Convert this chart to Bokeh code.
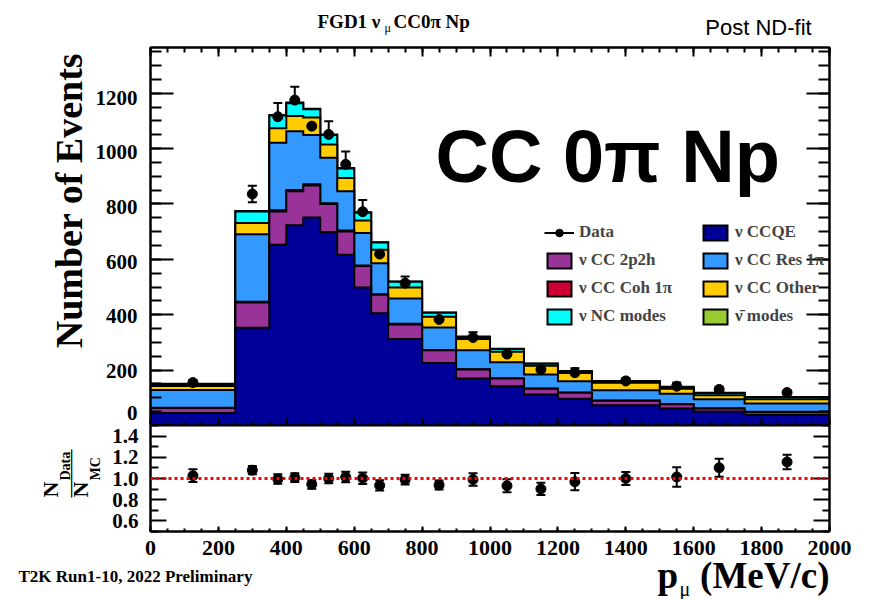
import numpy as np
from bokeh.plotting import figure
from bokeh.layouts import column, row
from bokeh.models import (ColumnDataSource, FixedTicker, LinearAxis, Range1d, Label,
                          Legend, LegendItem, Span, Whisker, TeeHead, NumeralTickFormatter)
from bokeh.embed import file_html
from bokeh.resources import INLINE

# ---------------- data ----------------
bin_edges = [0, 250, 350, 400, 450, 500, 550, 600, 650, 700, 800, 900, 1000,
             1100, 1200, 1300, 1500, 1600, 1750, 2000]
ccqe    = [45, 353, 653, 723, 751, 699, 617, 498, 405, 312, 226, 170, 142, 112, 97, 73, 61, 51, 39]
cc2p2h  = [18, 91, 120, 123, 116, 101, 84, 78, 67, 53, 46, 32, 28, 21, 21, 16, 16, 10, 10]
cccoh   = [1, 3, 4, 4, 4, 3, 3, 2, 2, 2, 1, 1, 1, 1, 1, 1, 1, 1, 1]
ccres   = [64, 244, 244, 213, 178, 164, 142, 117, 112, 92, 81, 69, 57, 50, 41, 37, 37, 33, 29]
ccother = [15, 40, 52, 55, 63, 48, 48, 45, 49, 39, 39, 40, 38, 32, 30, 27, 18, 14, 16]
ncmodes = [7, 42, 46, 46, 30, 34, 34, 28, 26, 21, 14, 8, 10, 7, 6, 6, 6, 8, 7]
antinu  = [1, 2, 2, 2, 2, 2, 2, 2, 1, 1, 1, 1, 1, 1, 1, 1, 1, 1, 1]
data     = [155, 836, 1115, 1175, 1081, 1051, 943, 772, 619, 514, 383, 318, 258, 202, 191, 161, 142, 130, 119]
data_err = [9, 30, 50, 48, 48, 48, 46, 42, 32, 24, 17, 19, 17, 13, 16, 10, 13, 10, 7]

y_ticks = [0, 200, 400, 600, 800, 1000, 1200]
y_tick_labels = ["0", "200", "400", "600", "800", "1000", "1200"]
x_ticks = [0, 200, 400, 600, 800, 1000, 1200, 1400, 1600, 1800, 2000]
x_tick_labels = ["0", "200", "400", "600", "800", "1000", "1200", "1400", "1600", "1800", "2000"]
ratio_ticks = [0.6, 0.8, 1.0, 1.2, 1.4]

names = ["\u03bd CCQE", "\u03bd CC 2p2h", "\u03bd CC Coh 1\u03c0", "\u03bd CC Res 1\u03c0",
         "\u03bd CC Other", "\u03bd NC modes", "\u03bd\u0304 modes"]
colors = ["#000099", "#993399", "#cc0033", "#3399ff", "#ffcc00", "#00ffff", "#99cc33"]

# ---------------- derived ----------------
edges = np.array(bin_edges, float)
centers = 0.5 * (edges[:-1] + edges[1:])
components = np.array([ccqe, cc2p2h, cccoh, ccres, ccother, ncmodes, antinu], float)
cum = np.cumsum(components, axis=0)
total = cum[-1]
d = np.array(data, float)
de = np.array(data_err, float)
ratio = d / total
ratio_err = de / total

SERIF = "Liberation Serif"
SANS = "Liberation Sans"
FW, FH_TOP, FH_RAT = 679, 378, 106
YMAX = 1365
W = 879
FL, FR = 150, 50          # frame left / right margins on the page
TOP_H = 42


def step_poly(vals):
    xs, ys = [edges[0]], [0.0]
    for i, v in enumerate(vals):
        xs += [edges[i], edges[i + 1]]
        ys += [v, v]
    xs.append(edges[-1])
    ys.append(0.0)
    return xs, ys


def mk_axis(ticks, minor, tin, minin, labels=False, size="21px", standoff=12, fmt=None):
    ax = LinearAxis(ticker=FixedTicker(ticks=ticks, minor_ticks=minor),
                    major_tick_in=tin, major_tick_out=0,
                    minor_tick_in=minin, minor_tick_out=0,
                    axis_line_width=2, axis_line_color="black",
                    major_tick_line_width=2, minor_tick_line_width=2,
                    major_tick_line_color="black", minor_tick_line_color="black")
    if labels:
        ax.major_label_text_font = SERIF
        ax.major_label_text_font_style = "bold"
        ax.major_label_text_font_size = size
        ax.major_label_text_color = "black"
        ax.major_label_standoff = standoff
        if fmt is not None:
            ax.formatter = fmt
    else:
        ax.major_label_text_font_size = "0px"
        ax.major_label_text_alpha = 0
        ax.major_label_standoff = 0
    return ax


def strip(w, h, x_range=None, y_range=None):
    f = figure(width=w, height=h, x_range=x_range or Range1d(0, w),
               y_range=y_range or Range1d(0, h),
               output_backend="svg", toolbar_location=None, x_axis_location=None,
               y_axis_location=None, min_border=0)
    f.grid.visible = False
    f.outline_line_color = None
    f.background_fill_color = "white"
    f.border_fill_color = "white"
    return f


def lab(fig, x, y, text, size, font=SERIF, style="bold", align="left", angle=0.0,
        xu="screen", yu="screen"):
    fig.add_layout(Label(x=x, y=y, x_units=xu, y_units=yu, text=text,
                         text_font=font, text_font_style=style, text_font_size=f"{size}px",
                         text_align=align, text_baseline="middle", angle=angle,
                         text_color="black"))


def hlab(fig, x, base_y, text, size, **kw):
    # base_y: wanted baseline, measured upward; Label anchored at the text middle
    lab(fig, x, base_y + 0.35 * size, text, size, **kw)


def vlab(fig, base_x, y, text, size, **kw):
    # rotated text reading upward; base_x: baseline position
    lab(fig, base_x - 0.35 * size, y, text, size, angle=np.pi / 2, **kw)


x_minor = list(range(0, 2001, 50))

# ---------------- top panel ----------------
p = figure(frame_width=FW, frame_height=FH_TOP, x_range=Range1d(0, 2000), y_range=Range1d(0, YMAX),
           output_backend="svg", toolbar_location=None, x_axis_location=None, y_axis_location=None,
           min_border_left=4, min_border_right=FR, min_border_top=5, min_border_bottom=0)
p.grid.visible = False
p.outline_line_color = "black"
p.outline_line_width = 2
p.background_fill_color = "white"
p.border_fill_color = "white"

y_minor = list(range(0, YMAX + 1, 50))
p.add_layout(mk_axis(y_ticks, y_minor, 23, 11), "left")
p.add_layout(mk_axis(y_ticks, y_minor, 23, 11), "right")
p.add_layout(mk_axis(x_ticks, x_minor, 8, 4), "below")
p.add_layout(mk_axis(x_ticks, x_minor, 9, 5), "above")

rends = {}
for k in reversed(range(len(components))):
    xs, ys = step_poly(cum[k])
    rends[k] = p.patch(xs, ys, fill_color=colors[k], line_color="black", line_width=2,
                       line_join="miter")

src = ColumnDataSource(dict(x=centers, y=d, lo=d - de, hi=d + de))
p.add_layout(Whisker(base="x", lower="lo", upper="hi", source=src, line_width=2, line_color="black",
                     upper_head=TeeHead(size=9, line_width=2, line_color="black"),
                     lower_head=TeeHead(size=9, line_width=2, line_color="black")))
dr = p.scatter("x", "y", source=src, size=10, color="black")
dline = p.line(x=[float("nan")], y=[float("nan")], line_color="black", line_width=2)

leg_kw = dict(padding=0, margin=0, border_line_alpha=0, background_fill_alpha=0,
              label_text_font=SERIF, label_text_font_style="bold", label_text_font_size="17px",
              glyph_width=30, glyph_height=19, label_height=19, spacing=8, label_standoff=5)
leg1 = Legend(items=[LegendItem(label="Data", renderers=[dline, dr]),
                     LegendItem(label=names[1], renderers=[rends[1]]),
                     LegendItem(label=names[2], renderers=[rends[2]]),
                     LegendItem(label=names[5], renderers=[rends[5]])],
              location=(394, 99), **leg_kw)
leg2 = Legend(items=[LegendItem(label=names[0], renderers=[rends[0]]),
                     LegendItem(label=names[3], renderers=[rends[3]]),
                     LegendItem(label=names[4], renderers=[rends[4]]),
                     LegendItem(label=names[6], renderers=[rends[6]])],
              location=(550, 99), **leg_kw)
p.add_layout(leg1)
p.add_layout(leg2)

# big label inside the frame (screen px from the frame's bottom-left)
hlab(p, 285, 243, "CC 0\u03c0 Np", 74, font=SANS)

# ---------------- ratio panel ----------------
r = figure(frame_width=FW, frame_height=FH_RAT, x_range=p.x_range, y_range=Range1d(0.5, 1.5),
           output_backend="svg", toolbar_location=None, x_axis_location=None, y_axis_location=None,
           min_border_left=46, min_border_right=FR, min_border_top=0, min_border_bottom=2)
r.grid.visible = False
r.outline_line_color = "black"
r.outline_line_width = 2
r.background_fill_color = "white"
r.border_fill_color = "white"

r_minor = [0.5, 0.7, 0.9, 1.1, 1.3, 1.5]
r.add_layout(mk_axis(ratio_ticks, r_minor, 16, 8, labels=True, size="21px", standoff=12,
                     fmt=NumeralTickFormatter(format="0.0")), "left")
r.add_layout(mk_axis(ratio_ticks, r_minor, 16, 7), "right")
r.add_layout(mk_axis(x_ticks, x_minor, 5, 3), "below")

r.add_layout(Span(location=1.0, dimension="width", line_color="red", line_width=3,
                  line_dash="3 3"))
rsrc = ColumnDataSource(dict(x=centers, y=ratio, lo=ratio - ratio_err, hi=ratio + ratio_err))
r.add_layout(Whisker(base="x", lower="lo", upper="hi", source=rsrc, line_width=2, line_color="black",
                     upper_head=TeeHead(size=9, line_width=2, line_color="black"),
                     lower_head=TeeHead(size=9, line_width=2, line_color="black")))
r.scatter("x", "y", source=rsrc, size=10, color="black")

# ---------------- text strips ----------------
# top strip: title and fit tag (page y 0..42)
top = strip(W, TOP_H)
hlab(top, 317, TOP_H - 28, "FGD1  \u03bd", 19)
hlab(top, 384, TOP_H - 32, "\u03bc", 12, style="normal")
hlab(top, 393, TOP_H - 28, "CC0\u03c0 Np", 19)
hlab(top, 758, TOP_H - 35, "Post ND-fit", 22, font=SANS, style="normal", align="center")

# left strip of the top panel (page x 0..146, y 42..425); y scale matches the panel
L1H = 383
L1W = FL - 4
left1 = strip(L1W, L1H, y_range=Range1d(0, YMAX * L1H / FH_TOP))
vlab(left1, 82, 425 - 200, "Number of Events", 38, align="center")
for t, s in zip(y_ticks, y_tick_labels):
    if t == 0:
        hlab(left1, 137, 5, s, 21, align="right")
    else:
        lab(left1, 137, t, s, 21, align="right", yu="data")

# left strip of the ratio panel (page y ~426..534)
L2H = 108
T2 = 426
left2 = strip(104, L2H)
vlab(left2, 58, L2H - (500 - T2), "N", 22)
vlab(left2, 70, L2H - (483 - T2), "Data", 14)
lab(left2, 70, L2H - (476 - T2), "\u2014\u2014\u2014", 16, align="center", angle=np.pi / 2)
vlab(left2, 88, L2H - (500 - T2), "N", 22)
vlab(left2, 100, L2H - (483 - T2), "MC", 14)

# bottom strip (page y ~534..600): x tick labels placed through the same MeV scale
BH = 66
px_per_mev = FW / 2000.0
bot = strip(W, BH, x_range=Range1d(-FL / px_per_mev, 2000 + FR / px_per_mev))
for t, s in zip(x_ticks, x_tick_labels):
    hlab(bot, t, 600 - 556, s, 22, align="center", xu="data")
hlab(bot, 18, 600 - 583, "T2K Run1-10, 2022 Preliminary", 17)
hlab(bot, 657, 600 - 589, "p", 37)
hlab(bot, 679, 600 - 596, "\u03bc", 20, style="normal")
hlab(bot, 829, 600 - 589, "(MeV/c)", 37, align="right")

layout = column(top, row(left1, p, spacing=0), row(left2, r, spacing=0), bot, spacing=0)
open("out.html", "w").write(file_html(layout, INLINE))
